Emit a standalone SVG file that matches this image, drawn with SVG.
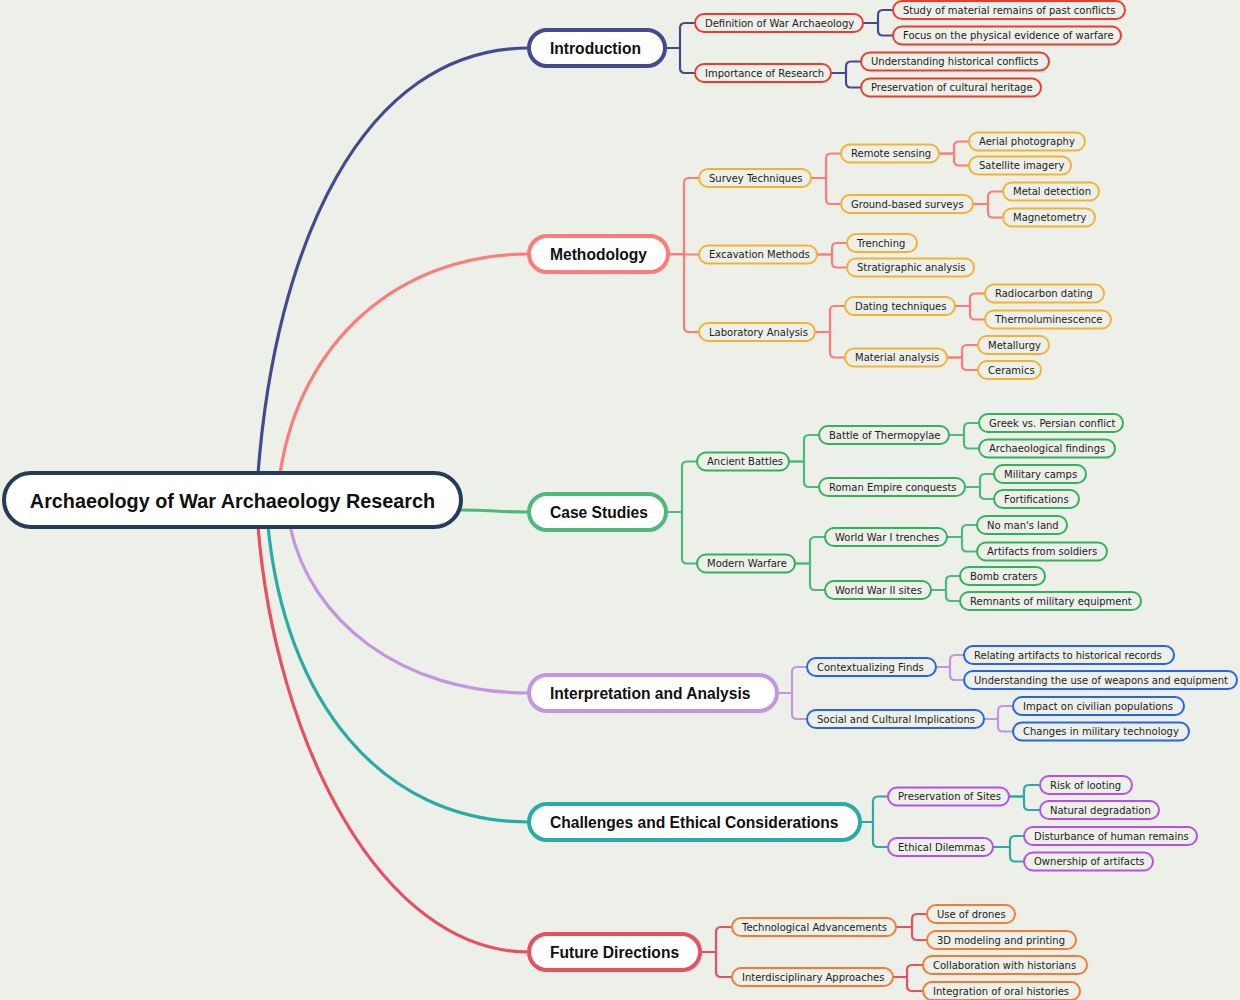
<svg xmlns="http://www.w3.org/2000/svg" width="1240" height="1000" viewBox="0 0 1240 1000">
<style>
.bg{fill:#ecf0e9}
.c{fill:none;stroke-width:2.2;stroke-linecap:round;stroke-linejoin:round}
.cm{fill:none;stroke-width:3.2;stroke-linecap:round}
.m rect{fill:#ffffff;stroke-width:4}
.m text{font-family:"Liberation Sans",Arial,sans-serif;font-weight:bold;font-size:15.6px;fill:#111111}
.s rect{fill:#ecf0e9;stroke-width:2}
.s text{font-family:"DejaVu Sans","Liberation Sans",sans-serif;font-size:10px;fill:#1c1c1c}
.sr rect{stroke:#ef3b2f}
.sy rect{stroke:#f4b233}
.sg rect{stroke:#30b35b}
.sb rect{stroke:#2563f0}
.sp rect{stroke:#b84ef0}
.so rect{stroke:#f77a30}
</style>
<rect class="bg" x="0" y="0" width="1240" height="1000"/>
<g id="connectors">
<path class="cm" stroke="#434b8e" d="M258 474 C275 250 360 48 529 48"/>
<path class="cm" stroke="#fd7c79" d="M280 474 C300 340 400 254 529 254"/>
<path class="cm" stroke="#4cbb7a" d="M461 510 C495 510 495 512 529 512"/>
<path class="cm" stroke="#c496e2" d="M290 526 C310 620 400 693 529 693"/>
<path class="cm" stroke="#2aaca6" d="M268 526 C285 700 380 822 529 822"/>
<path class="cm" stroke="#e9505f" d="M258 526 C275 740 380 952 529 952"/>
<g stroke="#434b8e" class="c">
<path d="M665 48 H680 V28 Q680 23 685 23 H694"/>
<path d="M665 48 H680 V68 Q680 73 685 73 H694"/>
<path d="M864 23 H878 V15 Q878 10 883 10 H892"/>
<path d="M864 23 H878 V30.5 Q878 35.5 883 35.5 H892"/>
<path d="M832 73 H846 V66.5 Q846 61.5 851 61.5 H860"/>
<path d="M832 73 H846 V82.5 Q846 87.5 851 87.5 H860"/>
</g>
<g stroke="#fd7c79" class="c">
<path d="M668 254 H684 V183 Q684 178 689 178 H698"/>
<path d="M668 254.5 H698"/>
<path d="M668 254 H684 V327 Q684 332 689 332 H698"/>
<path d="M812 178 H826 V158.5 Q826 153.5 831 153.5 H840"/>
<path d="M812 178 H826 V199 Q826 204 831 204 H840"/>
<path d="M940 153.5 H954 V146.5 Q954 141.5 959 141.5 H968"/>
<path d="M940 153.5 H954 V160.5 Q954 165.5 959 165.5 H968"/>
<path d="M974 204 H988 V196.5 Q988 191.5 993 191.5 H1002"/>
<path d="M974 204 H988 V212.5 Q988 217.5 993 217.5 H1002"/>
<path d="M818 254.5 H832 V248 Q832 243 837 243 H846"/>
<path d="M818 254.5 H832 V262.5 Q832 267.5 837 267.5 H846"/>
<path d="M816 332 H830 V311 Q830 306 835 306 H844"/>
<path d="M816 332 H830 V352.5 Q830 357.5 835 357.5 H844"/>
<path d="M956 306 H970 V298.5 Q970 293.5 975 293.5 H984"/>
<path d="M956 306 H970 V314.5 Q970 319.5 975 319.5 H984"/>
<path d="M948 357.5 H962 V350 Q962 345 967 345 H977"/>
<path d="M948 357.5 H962 V365 Q962 370 967 370 H977"/>
</g>
<g stroke="#4cbb7a" class="c">
<path d="M666 512 H682 V466.5 Q682 461.5 687 461.5 H696"/>
<path d="M666 512 H682 V558.5 Q682 563.5 687 563.5 H696"/>
<path d="M790 461.5 H804 V440 Q804 435 809 435 H818"/>
<path d="M790 461.5 H804 V482 Q804 487 809 487 H818"/>
<path d="M950 435 H964 V428 Q964 423 969 423 H978"/>
<path d="M950 435 H964 V443.5 Q964 448.5 969 448.5 H978"/>
<path d="M966 487 H980 V479 Q980 474 985 474 H993"/>
<path d="M966 487 H980 V494 Q980 499 985 499 H993"/>
<path d="M796 563.5 H810 V542 Q810 537 815 537 H824"/>
<path d="M796 563.5 H810 V585 Q810 590 815 590 H824"/>
<path d="M948 537 H962 V530 Q962 525 967 525 H976"/>
<path d="M948 537 H962 V546.5 Q962 551.5 967 551.5 H976"/>
<path d="M932 590 H946 V581 Q946 576 951 576 H959"/>
<path d="M932 590 H946 V596 Q946 601 951 601 H959"/>
</g>
<g stroke="#c496e2" class="c">
<path d="M777 693 H792 V672 Q792 667 797 667 H806"/>
<path d="M777 693 H792 V714 Q792 719 797 719 H806"/>
<path d="M937 667 H950 V660 Q950 655 955 655 H963"/>
<path d="M937 667 H950 V675 Q950 680 955 680 H963"/>
<path d="M985 719 H998 V711 Q998 706 1003 706 H1012"/>
<path d="M985 719 H998 V726.5 Q998 731.5 1003 731.5 H1012"/>
</g>
<g stroke="#2aaca6" class="c">
<path d="M860 822 H873 V801.5 Q873 796.5 878 796.5 H887"/>
<path d="M860 822 H873 V842 Q873 847 878 847 H887"/>
<path d="M1010 796.5 H1024 V790 Q1024 785 1029 785 H1039"/>
<path d="M1010 796.5 H1024 V805 Q1024 810 1029 810 H1039"/>
<path d="M994 847 H1010 V841 Q1010 836 1015 836 H1023"/>
<path d="M994 847 H1010 V856.5 Q1010 861.5 1015 861.5 H1023"/>
</g>
<g stroke="#e9505f" class="c">
<path d="M700 952 H716 V932 Q716 927 721 927 H731"/>
<path d="M700 952 H716 V972 Q716 977 721 977 H731"/>
<path d="M897 927 H912 V919 Q912 914 917 914 H926"/>
<path d="M897 927 H912 V935 Q912 940 917 940 H926"/>
<path d="M894 977 H907 V970 Q907 965 912 965 H922"/>
<path d="M894 977 H907 V986 Q907 991 912 991 H922"/>
</g>
</g>

<g id="root" class="m"><rect x="4" y="473" width="457" height="54" rx="27" stroke="#243c5a"/><text x="232.5" y="508" text-anchor="middle" style="font-size:19.8px">Archaeology of War Archaeology Research</text></g>

<g id="introduction" class="m"><rect x="529" y="30" width="136" height="36" rx="18" stroke="#434b8e"/><text x="550" y="53.6">Introduction</text></g>
<g id="methodology" class="m"><rect x="529" y="236" width="139" height="36" rx="18" stroke="#fd7c79"/><text x="550" y="259.6">Methodology</text></g>
<g id="case-studies" class="m"><rect x="529" y="494" width="137" height="36" rx="18" stroke="#4cbb7a"/><text x="550" y="517.6">Case Studies</text></g>
<g id="interpretation" class="m"><rect x="529" y="675" width="248" height="36" rx="18" stroke="#c496e2"/><text x="550" y="698.6">Interpretation and Analysis</text></g>
<g id="challenges" class="m"><rect x="529" y="804" width="331" height="36" rx="18" stroke="#2aaca6"/><text x="550" y="827.6">Challenges and Ethical Considerations</text></g>
<g id="future" class="m"><rect x="529" y="934" width="171" height="36" rx="18" stroke="#e9505f"/><text x="550" y="957.6">Future Directions</text></g>

<g id="n-def" class="s sr"><rect x="695" y="14" width="168" height="18" rx="9"/><text x="705" y="26.6">Definition of War Archaeology</text></g>
<g id="n-imp" class="s sr"><rect x="695" y="64" width="136" height="18" rx="9"/><text x="705" y="76.6">Importance of Research</text></g>
<g id="n-study" class="s sr"><rect x="893" y="1" width="232" height="18" rx="9"/><text x="903" y="13.6">Study of material remains of past conflicts</text></g>
<g id="n-focus" class="s sr"><rect x="893" y="26.5" width="228" height="18" rx="9"/><text x="903" y="39.1">Focus on the physical evidence of warfare</text></g>
<g id="n-und" class="s sr"><rect x="861" y="52.5" width="188" height="18" rx="9"/><text x="871" y="65.1">Understanding historical conflicts</text></g>
<g id="n-pres" class="s sr"><rect x="861" y="78.5" width="180" height="18" rx="9"/><text x="871" y="91.1">Preservation of cultural heritage</text></g>

<g id="n-survey" class="s sy"><rect x="699" y="169" width="112" height="18" rx="9"/><text x="709" y="181.6">Survey Techniques</text></g>
<g id="n-excav" class="s sy"><rect x="699" y="245.5" width="118" height="18" rx="9"/><text x="709" y="258.1">Excavation Methods</text></g>
<g id="n-lab" class="s sy"><rect x="699" y="323" width="116" height="18" rx="9"/><text x="709" y="335.6">Laboratory Analysis</text></g>
<g id="n-remote" class="s sy"><rect x="841" y="144.5" width="98" height="18" rx="9"/><text x="851" y="157.1">Remote sensing</text></g>
<g id="n-ground" class="s sy"><rect x="841" y="195" width="132" height="18" rx="9"/><text x="851" y="207.6">Ground-based surveys</text></g>
<g id="n-aerial" class="s sy"><rect x="969" y="132.5" width="116" height="18" rx="9"/><text x="979" y="145.1">Aerial photography</text></g>
<g id="n-satellite" class="s sy"><rect x="969" y="156.5" width="102" height="18" rx="9"/><text x="979" y="169.1">Satellite imagery</text></g>
<g id="n-metal" class="s sy"><rect x="1003" y="182.5" width="96" height="18" rx="9"/><text x="1013" y="195.1">Metal detection</text></g>
<g id="n-magneto" class="s sy"><rect x="1003" y="208.5" width="92" height="18" rx="9"/><text x="1013" y="221.1">Magnetometry</text></g>
<g id="n-trench" class="s sy"><rect x="847" y="234" width="70" height="18" rx="9"/><text x="857" y="246.6">Trenching</text></g>
<g id="n-strat" class="s sy"><rect x="847" y="258.5" width="127" height="18" rx="9"/><text x="857" y="271.1">Stratigraphic analysis</text></g>
<g id="n-dating" class="s sy"><rect x="845" y="297" width="110" height="18" rx="9"/><text x="855" y="309.6">Dating techniques</text></g>
<g id="n-material" class="s sy"><rect x="845" y="348.5" width="102" height="18" rx="9"/><text x="855" y="361.1">Material analysis</text></g>
<g id="n-radio" class="s sy"><rect x="985" y="284.5" width="119" height="18" rx="9"/><text x="995" y="297.1">Radiocarbon dating</text></g>
<g id="n-thermo" class="s sy"><rect x="985" y="310.5" width="126" height="18" rx="9"/><text x="995" y="323.1">Thermoluminescence</text></g>
<g id="n-metallurgy" class="s sy"><rect x="978" y="336" width="71" height="18" rx="9"/><text x="988" y="348.6">Metallurgy</text></g>
<g id="n-ceramics" class="s sy"><rect x="978" y="361" width="63" height="18" rx="9"/><text x="988" y="373.6">Ceramics</text></g>

<g id="n-ancient" class="s sg"><rect x="697" y="452.5" width="92" height="18" rx="9"/><text x="707" y="465.1">Ancient Battles</text></g>
<g id="n-modern" class="s sg"><rect x="697" y="554.5" width="98" height="18" rx="9"/><text x="707" y="567.1">Modern Warfare</text></g>
<g id="n-thermopylae" class="s sg"><rect x="819" y="426" width="130" height="18" rx="9"/><text x="829" y="438.6">Battle of Thermopylae</text></g>
<g id="n-roman" class="s sg"><rect x="819" y="478" width="146" height="18" rx="9"/><text x="829" y="490.6">Roman Empire conquests</text></g>
<g id="n-greek" class="s sg"><rect x="979" y="414" width="144" height="18" rx="9"/><text x="989" y="426.6">Greek vs. Persian conflict</text></g>
<g id="n-archfind" class="s sg"><rect x="979" y="439.5" width="136" height="18" rx="9"/><text x="989" y="452.1">Archaeological findings</text></g>
<g id="n-camps" class="s sg"><rect x="994" y="465" width="92" height="18" rx="9"/><text x="1004" y="477.6">Military camps</text></g>
<g id="n-fort" class="s sg"><rect x="994" y="490" width="85" height="18" rx="9"/><text x="1004" y="502.6">Fortifications</text></g>
<g id="n-wwi" class="s sg"><rect x="825" y="528" width="122" height="18" rx="9"/><text x="835" y="540.6">World War I trenches</text></g>
<g id="n-wwii" class="s sg"><rect x="825" y="581" width="106" height="18" rx="9"/><text x="835" y="593.6">World War II sites</text></g>
<g id="n-noman" class="s sg"><rect x="977" y="516" width="90" height="18" rx="9"/><text x="987" y="528.6">No man's land</text></g>
<g id="n-artifacts" class="s sg"><rect x="977" y="542.5" width="130" height="18" rx="9"/><text x="987" y="555.1">Artifacts from soldiers</text></g>
<g id="n-bomb" class="s sg"><rect x="960" y="567" width="85" height="18" rx="9"/><text x="970" y="579.6">Bomb craters</text></g>
<g id="n-remnants" class="s sg"><rect x="960" y="592" width="181" height="18" rx="9"/><text x="970" y="604.6">Remnants of military equipment</text></g>

<g id="n-context" class="s sb"><rect x="807" y="658" width="129" height="18" rx="9"/><text x="817" y="670.6">Contextualizing Finds</text></g>
<g id="n-social" class="s sb"><rect x="807" y="710" width="177" height="18" rx="9"/><text x="817" y="722.6">Social and Cultural Implications</text></g>
<g id="n-relating" class="s sb"><rect x="964" y="646" width="210" height="18" rx="9"/><text x="974" y="658.6">Relating artifacts to historical records</text></g>
<g id="n-underst" class="s sb"><rect x="964" y="671" width="273" height="18" rx="9"/><text x="974" y="683.6">Understanding the use of weapons and equipment</text></g>
<g id="n-impact" class="s sb"><rect x="1013" y="697" width="171" height="18" rx="9"/><text x="1023" y="709.6">Impact on civilian populations</text></g>
<g id="n-changes" class="s sb"><rect x="1013" y="722.5" width="176" height="18" rx="9"/><text x="1023" y="735.1">Changes in military technology</text></g>

<g id="n-preserv" class="s sp"><rect x="888" y="787.5" width="121" height="18" rx="9"/><text x="898" y="800.1">Preservation of Sites</text></g>
<g id="n-ethical" class="s sp"><rect x="888" y="838" width="105" height="18" rx="9"/><text x="898" y="850.6">Ethical Dilemmas</text></g>
<g id="n-risk" class="s sp"><rect x="1040" y="776" width="92" height="18" rx="9"/><text x="1050" y="788.6">Risk of looting</text></g>
<g id="n-natural" class="s sp"><rect x="1040" y="801" width="119" height="18" rx="9"/><text x="1050" y="813.6">Natural degradation</text></g>
<g id="n-disturb" class="s sp"><rect x="1024" y="827" width="173" height="18" rx="9"/><text x="1034" y="839.6">Disturbance of human remains</text></g>
<g id="n-owner" class="s sp"><rect x="1024" y="852.5" width="129" height="18" rx="9"/><text x="1034" y="865.1">Ownership of artifacts</text></g>

<g id="n-tech" class="s so"><rect x="732" y="918" width="164" height="18" rx="9"/><text x="742" y="930.6">Technological Advancements</text></g>
<g id="n-inter" class="s so"><rect x="732" y="968" width="161" height="18" rx="9"/><text x="742" y="980.6">Interdisciplinary Approaches</text></g>
<g id="n-drones" class="s so"><rect x="927" y="905" width="88" height="18" rx="9"/><text x="937" y="917.6">Use of drones</text></g>
<g id="n-3d" class="s so"><rect x="927" y="931" width="149" height="18" rx="9"/><text x="937" y="943.6">3D modeling and printing</text></g>
<g id="n-collab" class="s so"><rect x="923" y="956" width="164" height="18" rx="9"/><text x="933" y="968.6">Collaboration with historians</text></g>
<g id="n-integ" class="s so"><rect x="923" y="982" width="157" height="18" rx="9"/><text x="933" y="994.6">Integration of oral histories</text></g>
</svg>
